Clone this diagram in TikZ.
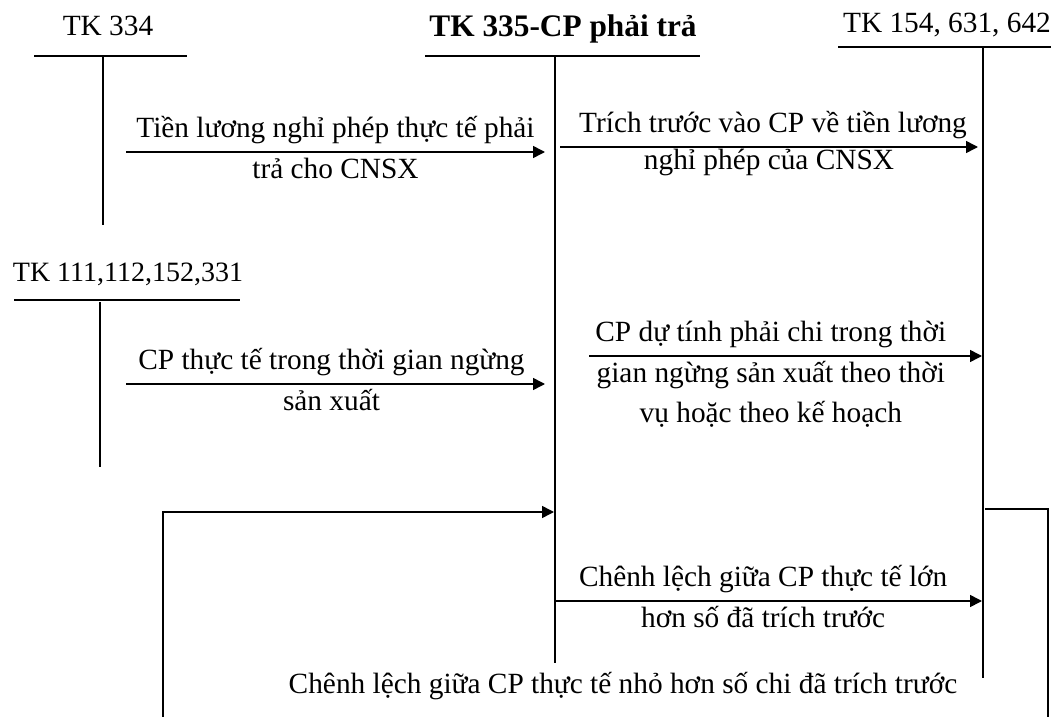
\documentclass[tikz,border=0pt]{standalone}
\usepackage{fontspec}
\setmainfont{Liberation Serif}
\usetikzlibrary{arrows.meta}
\begin{document}
\begin{tikzpicture}[x=0.75pt,y=-0.75pt,>={Triangle[length=9pt,width=9pt]},line width=1.2pt,
	font=\fontsize{22}{29}\selectfont,
	lbl/.style={text height=15pt,text depth=6pt,inner sep=4.5pt}]
	\useasboundingbox (0,0) rectangle (1051,717);
	
	% chu T: TK 334
	\node[anchor=base] (tk334) at (108,36) {TK 334};
	\draw (34,56)--(187,56);
	\draw (103,57)--(103,225);
	
	% chu T: TK 335
	\node[anchor=base,font=\fontsize{23.5}{29}\selectfont\bfseries] (tk335) at (563,37) {TK 335-CP phải trả};
	\draw (425,56)--(700,56);
	\draw (555,57)--(555,663);
	
	% chu T: TK 154, 631, 642
	\node[anchor=base] (tk154) at (947,33) {TK 154, 631, 642};
	\draw (838,47)--(1051,47);
	\draw (983,48)--(983,678);
	
	% chu T: TK 111,112,152,331
	\node[anchor=base,font=\fontsize{21}{29}\selectfont] (tk111) at (128,281) {TK 111,112,152,331};
	\draw (14,300)--(240,300);
	\draw (100,302)--(100,467);
	
	\coordinate (A1) at (126,152);
	\coordinate (B1) at (545,152);
	\draw[->] (A1)--(B1) node[midway,above,lbl]{Tiền lương nghỉ phép thực tế phải} node[midway,below,lbl]{trả cho CNSX};
	
	\coordinate (A2) at (560,147);
	\coordinate (B2) at (978,147);
	\draw[->] (A2)--(B2) node[midway,above,lbl,xshift=3pt]{Trích trước vào CP về tiền lương} node[midway,below,lbl,yshift=3pt]{nghỉ phép của CNSX};
	
	\coordinate (A3) at (126,384);
	\coordinate (B3) at (545,384);
	\draw[->] (A3)--(B3) node[midway,above,lbl,xshift=-3pt]{CP thực tế trong thời gian ngừng} node[midway,below,lbl,xshift=-3pt]{sản xuất};
	
	\coordinate (A4) at (589,356);
	\coordinate (B4) at (982,356);
	\draw[->] (A4)--(B4) node[midway,above,lbl,xshift=-11pt]{CP dự tính phải chi trong thời} node[midway,below,lbl,xshift=-11pt] (l2){gian ngừng sản xuất theo thời};
	\node[below,lbl,inner sep=3pt] (l3) at (l2.south) {vụ hoặc theo kế hoạch};
	
	\coordinate (A5) at (555,601);
	\coordinate (B5) at (982,601);
	\draw[->] (A5)--(B5) node[midway,above,lbl,xshift=-4pt]{Chênh lệch giữa CP thực tế lớn} node[midway,below,lbl,xshift=-4pt]{hơn số đã trích trước};
	
	% chenh lech nho hon
	\coordinate (C1) at (1048,717);
	\coordinate (C2) at (163,717);
	\coordinate (D1) at (985,509);
	\coordinate (D2) at (554,512);
	\draw (D1)-|(C1);
	\draw[->] (C2)|-(D2);
	\node[anchor=base] (nho) at (623,693) {Chênh lệch giữa CP thực tế nhỏ hơn số chi đã trích trước};
\end{tikzpicture}
\end{document}
